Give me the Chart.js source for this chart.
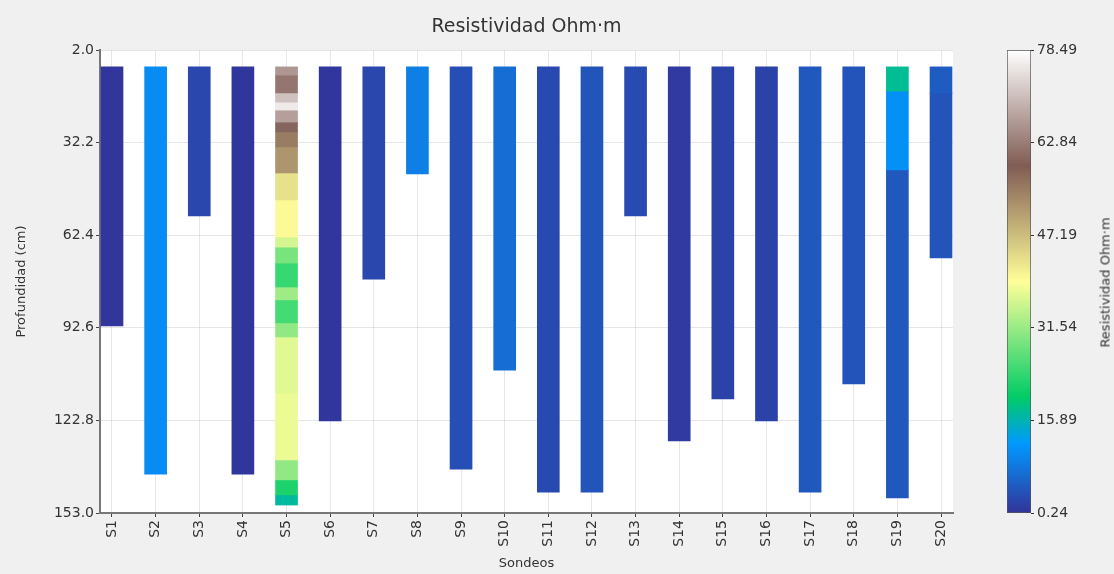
<!DOCTYPE html>
<html>
<head>
<meta charset="utf-8">
<script src="https://cdn.jsdelivr.net/npm/chart.js@4.4.1/dist/chart.umd.min.js"></script>
<style>
  html, body { margin: 0; padding: 0; background: #f0f0f0; }
  #wrap { position: relative; width: 1114px; height: 574px; overflow: hidden; }
  #mainChart { position: absolute; left: 0; top: 0; }
  #cbChart { position: absolute; left: 980px; top: 0; }
  #cbLabel {
    position: absolute; left: 1105px; top: 283px; width: 200px; margin-left: -100px; margin-top: -8px;
    text-align: center; font: normal 13px "DejaVu Sans", sans-serif; color: #333;
    transform: rotate(-90deg); white-space: nowrap;
  }
</style>
</head>
<body>
<div id="wrap">
  <canvas id="mainChart" width="1114" height="574"></canvas>
  <canvas id="cbChart" width="134" height="574"></canvas>
  <div id="cbLabel">Resistividad Ohm·m</div>
</div>
<script>
// Sondeos (categorías)
const sondeos = ['S1','S2','S3','S4','S5','S6','S7','S8','S9','S10',
                 'S11','S12','S13','S14','S15','S16','S17','S18','S19','S20'];

// Límites de capas (profundidad en cm) por sondeo
const limites = [
  [7.5, 92.0],
  [7.5, 140.3],
  [7.5, 56.1],
  [7.5, 140.3],
  [7.5, 10.2, 16.0, 19.0, 21.6, 25.5, 28.7, 33.6, 42.1, 50.9, 63.0, 66.3, 71.5, 79.3, 83.5, 91.0, 95.6, 113.9, 135.7, 142.2, 147.1, 150.4],
  [7.5, 123.0],
  [7.5, 76.7],
  [7.5, 42.4],
  [7.5, 138.7],
  [7.5, 106.4],
  [7.5, 146.2],
  [7.5, 146.2],
  [7.5, 56.1],
  [7.5, 129.5],
  [7.5, 115.8],
  [7.5, 123.0],
  [7.5, 146.2],
  [7.5, 110.9],
  [7.5, 15.4, 41.1, 148.1],
  [7.5, 16.0, 69.8]
];

// Resistividad (Ohm·m) de cada capa
const resistividad = [
  [0.5],
  [10.5],
  [2.5],
  [0.6],
  [66, 62, 71, 76, 67, 60, 55, 52, 43, 40, 36, 29, 24, 32, 25, 31, 37, 38, 31, 22, 17],
  [0.6],
  [2.5],
  [9.0],
  [3.5],
  [7.0],
  [2.8],
  [4.0],
  [3.0],
  [1.0],
  [2.0],
  [2.0],
  [4.5],
  [4.0],
  [17.5, 11.0, 4.5],
  [5.0, 4.0]
];

const profTicks = [2.0, 32.2, 62.4, 92.6, 122.8, 153.0];
const cbTicks = [0.24, 15.89, 31.54, 47.19, 62.84, 78.49];

// mapa de color "terrain"
const terrain = [
  [0.00, [0.2, 0.2, 0.6]],
  [0.15, [0.0, 0.6, 1.0]],
  [0.25, [0.0, 0.8, 0.4]],
  [0.50, [1.0, 1.0, 0.6]],
  [0.75, [0.5, 0.36, 0.33]],
  [1.00, [1.0, 1.0, 1.0]]
];
const vmin = cbTicks[0], vmax = cbTicks[cbTicks.length - 1];

function rgbStr(c) {
  return 'rgb(' + c.map(v => Math.round(v * 255)).join(',') + ')';
}

function colorTerrain(v) {
  let t = (v - vmin) / (vmax - vmin);
  t = Math.max(0, Math.min(1, t));
  for (let i = 1; i < terrain.length; i++) {
    if (t <= terrain[i][0]) {
      const [t0, c0] = terrain[i - 1];
      const [t1, c1] = terrain[i];
      const f = (t - t0) / (t1 - t0);
      return rgbStr(c0.map((a, k) => a + (c1[k] - a) * f));
    }
  }
  return rgbStr(terrain[terrain.length - 1][1]);
}

// un dataset por número de capa
const maxCapas = Math.max(...resistividad.map(r => r.length));
const datasets = [];
for (let k = 0; k < maxCapas; k++) {
  const data = [], colores = [];
  sondeos.forEach((s, i) => {
    if (k < resistividad[i].length) {
      data.push({ x: i, y: [limites[i][k], limites[i][k + 1]] });
      colores.push(colorTerrain(resistividad[i][k]));
    }
  });
  datasets.push({
    label: 'capa ' + (k + 1),
    data: data,
    backgroundColor: colores,
    borderWidth: 0,
    grouped: false,
    barThickness: 22
  });
}

const fondoBlanco = {
  id: 'fondoBlanco',
  beforeDraw(chart) {
    const { ctx, chartArea: a } = chart;
    ctx.save();
    ctx.fillStyle = '#ffffff';
    ctx.fillRect(a.left, a.top, a.right - a.left, a.bottom - a.top);
    ctx.restore();
  }
};

const fuente = "'DejaVu Sans', sans-serif";

new Chart(document.getElementById('mainChart').getContext('2d'), {
  type: 'bar',
  data: { datasets: datasets },
  options: {
    responsive: false,
    animation: false,
    devicePixelRatio: 1,
    layout: { padding: { left: 0, right: 161, top: 0, bottom: 0 } },
    plugins: {
      legend: { display: false },
      tooltip: { enabled: false },
      title: {
        display: true,
        text: 'Resistividad Ohm·m',
        fullSize: false,
        color: '#333',
        font: { family: fuente, size: 19, weight: 'normal' },
        padding: { top: 16, bottom: 11.2 }
      }
    },
    scales: {
      x: {
        type: 'linear',
        offset: false,
        min: -0.275,
        max: 19.275,
        z: 1,
        afterBuildTicks: scale => { scale.ticks = sondeos.map((s, i) => ({ value: i })); },
        afterFit: scale => { scale.height = 61; },
        ticks: {
          callback: (v, i) => sondeos[i],
          minRotation: 90, maxRotation: 90,
          padding: 3,
          color: '#333',
          font: { family: fuente, size: 14 }
        },
        grid: { offset: false, color: 'rgba(200,200,200,0.45)', lineWidth: 1, tickLength: 4, tickColor: '#444' },
        border: { display: true, color: '#777', width: 2 },
        title: {
          display: true, text: 'Sondeos', color: '#333',
          font: { family: fuente, size: 13 }, padding: { top: 0, bottom: 3 }
        }
      },
      y: {
        type: 'linear',
        reverse: true,
        min: profTicks[0],
        max: profTicks[profTicks.length - 1],
        z: 1,
        afterBuildTicks: scale => { scale.ticks = profTicks.map(v => ({ value: v })); },
        afterFit: scale => { scale.width = 100; },
        ticks: {
          callback: v => Number(v).toFixed(1),
          padding: 2,
          color: '#333',
          font: { family: fuente, size: 14 }
        },
        grid: { color: 'rgba(200,200,200,0.45)', lineWidth: 1, tickLength: 4, tickColor: '#444' },
        border: { display: true, color: '#777', width: 2 },
        title: {
          display: true, text: 'Profundidad (cm)', color: '#333',
          font: { family: fuente, size: 13 }, padding: { top: 14, bottom: 0 }
        }
      }
    }
  },
  plugins: [fondoBlanco]
});

// barra de color
new Chart(document.getElementById('cbChart').getContext('2d'), {
  type: 'bar',
  data: {
    labels: ['cb'],
    datasets: [{
      data: [[vmin, vmax]],
      backgroundColor: ctx => {
        const { chartArea, ctx: c } = ctx.chart;
        if (!chartArea) return null;
        const g = c.createLinearGradient(0, chartArea.bottom, 0, chartArea.top);
        terrain.forEach(([t, rgb]) => g.addColorStop(t, rgbStr(rgb)));
        return g;
      },
      borderColor: '#555',
      borderWidth: 1,
      borderSkipped: false,
      barPercentage: 1,
      categoryPercentage: 1
    }]
  },
  options: {
    responsive: false,
    animation: false,
    devicePixelRatio: 1,
    layout: { padding: { left: 27, right: 0, top: 50, bottom: 61 } },
    plugins: { legend: { display: false }, tooltip: { enabled: false } },
    scales: {
      x: { display: false },
      y: {
        position: 'right',
        min: vmin,
        max: vmax,
        afterBuildTicks: scale => { scale.ticks = cbTicks.map(v => ({ value: v })); },
        afterFit: scale => { scale.width = 83; },
        ticks: {
          callback: v => Number(v).toFixed(2),
          padding: 3,
          color: '#333',
          font: { family: fuente, size: 14 }
        },
        grid: { drawOnChartArea: false, drawTicks: true, tickLength: 3, tickColor: '#333' },
        border: { display: false }
      }
    }
  }
});
</script>
</body>
</html>
